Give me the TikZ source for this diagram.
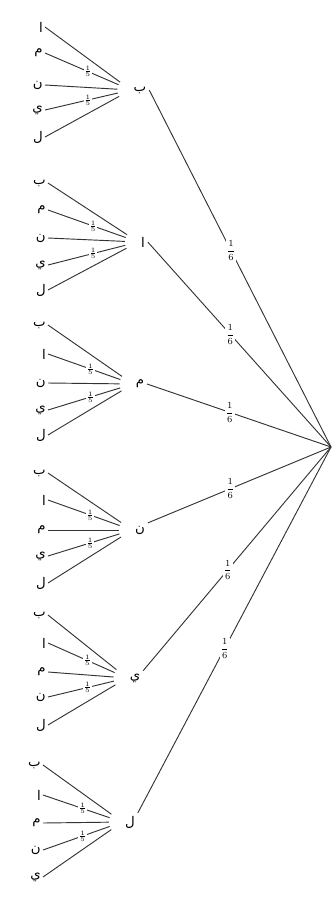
\documentclass[tikz,border=0pt]{standalone}
\usepackage{fontspec}
\newfontfamily\arfont[Script=Arabic]{DejaVu Sans}
\TeXXeTstate=1
\newcommand{\artxt}[1]{\arfont\beginR #1\endR}
\begin{document}
\begin{tikzpicture}[x=0.75pt,y=-0.75pt,
  edge/.style={draw=black!80,line width=0.7pt},
  kid/.style={edge,shorten <=10pt},
  lvone/.style={inner sep=2pt,font=\fontsize{10}{11}\selectfont},
  leaf/.style={inner sep=1.5pt,anchor=east,font=\fontsize{10}{11}\selectfont},
  fracA/.style={fill=white,inner sep=0.5pt,font=\scriptsize},
  fracB/.style={fill=white,inner sep=0.3pt,font=\tiny}]
\useasboundingbox (0,0) rectangle (333,900);
\coordinate (r) at (331,447);
\foreach \i/\x/\y/\t/\an in {1/140/90/ب/east,2/143/242/ا/east,3/140/384/م/east,4/140/530/ن/north east,5/135/678/ي/north east,6/130/822/ل/north east}{
  \node[lvone] (a\i) at (\x,\y) {\artxt{\t}};
  \draw[edge] (r) -- node[fracA,pos=0.55]{$\displaystyle\frac{1}{6}$} (a\i.\an);
}
\foreach \i/\xe/\ya/\yb/\yc/\yd/\ye/\ta/\tb/\tc/\td/\te in {
  1/45/27/53/85/110/137/ا/م/ن/ي/ل,
  2/48/183/210/238/265/290/ب/م/ن/ي/ل,
  3/48/325/354/383/410/435/ب/ا/ن/ي/ل,
  4/48/473/500/530/556/583/ب/ا/م/ي/ل,
  5/48/615/643/672/697/725/ب/ا/م/ن/ل,
  6/43/765/795/823/850/877/ب/ا/م/ن/ي}{
  \node[leaf] (l\i a) at (\xe,\ya) {\artxt{\ta}};
  \node[leaf] (l\i b) at (\xe,\yb) {\artxt{\tb}};
  \node[leaf] (l\i c) at (\xe,\yc) {\artxt{\tc}};
  \node[leaf] (l\i d) at (\xe,\yd) {\artxt{\td}};
  \node[leaf] (l\i e) at (\xe,\ye) {\artxt{\te}};
  \draw[kid] (a\i.west) -- (l\i a.east);
  \draw[kid] (a\i.west) -- node[fracB,pos=0.5]{$\frac{1}{5}$} (l\i b.east);
  \draw[kid] (a\i.west) -- (l\i c.east);
  \draw[kid] (a\i.west) -- node[fracB,pos=0.5]{$\frac{1}{5}$} (l\i d.east);
  \draw[kid] (a\i.west) -- (l\i e.east);
}
\end{tikzpicture}
\end{document}
